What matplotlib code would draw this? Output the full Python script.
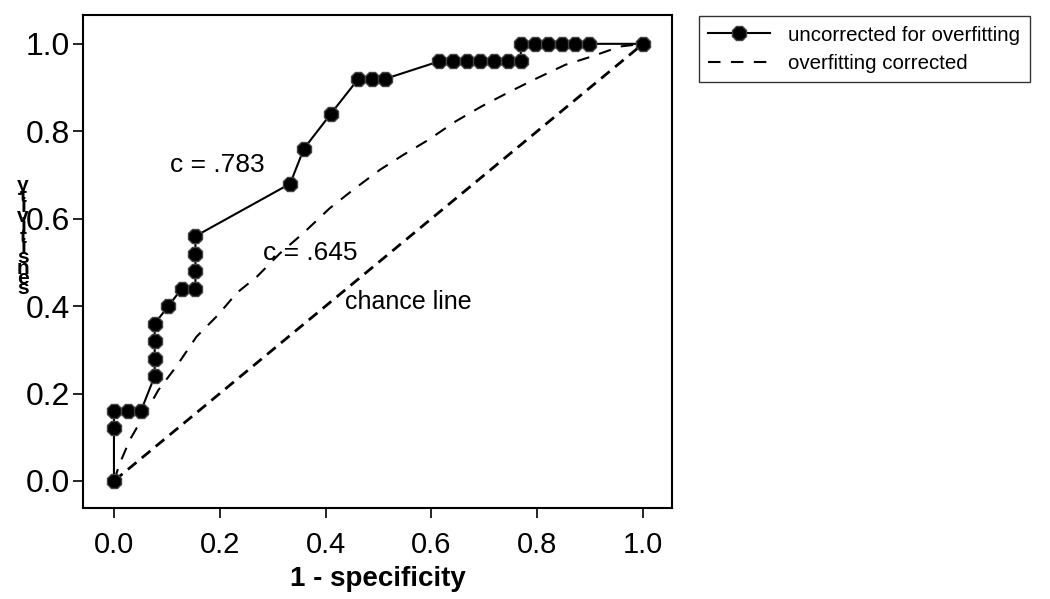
import matplotlib
matplotlib.use("Agg")
import matplotlib.pyplot as plt

# ---------------------------------
# Data
# ---------------------------------
fpr_uncorrected = [0.0, 0.0, 0.0, 0.026, 0.051, 0.077, 0.077, 0.077, 0.077,
                   0.103, 0.128, 0.154, 0.154, 0.154, 0.154, 0.333, 0.359,
                   0.410, 0.462, 0.487, 0.513, 0.615, 0.641, 0.667, 0.692,
                   0.718, 0.744, 0.769, 0.769, 0.795, 0.821, 0.846, 0.872,
                   0.897, 1.0]
tpr_uncorrected = [0.0, 0.12, 0.16, 0.16, 0.16, 0.24, 0.28, 0.32, 0.36,
                   0.40, 0.44, 0.44, 0.48, 0.52, 0.56, 0.68, 0.76,
                   0.84, 0.92, 0.92, 0.92, 0.96, 0.96, 0.96, 0.96,
                   0.96, 0.96, 0.96, 1.0, 1.0, 1.0, 1.0, 1.0,
                   1.0, 1.0]

fpr_corrected = [0.0, 0.011, 0.030, 0.052, 0.084, 0.118, 0.156, 0.197, 0.232,
                 0.270, 0.314, 0.358, 0.408, 0.452, 0.503, 0.547, 0.594,
                 0.645, 0.695, 0.749, 0.799, 0.853, 0.903, 0.957, 1.0]
tpr_corrected = [0.0, 0.040, 0.094, 0.140, 0.208, 0.262, 0.330, 0.380, 0.430,
                 0.467, 0.521, 0.567, 0.624, 0.666, 0.712, 0.746, 0.780,
                 0.822, 0.857, 0.891, 0.921, 0.952, 0.971, 0.994, 1.0]

chance = [0.0, 1.0]

ticks = [0.0, 0.2, 0.4, 0.6, 0.8, 1.0]
tick_labels = ["0.0", "0.2", "0.4", "0.6", "0.8", "1.0"]

# ---------------------------------
# Font
# ---------------------------------
plt.rcParams["font.family"] = ["Liberation Sans", "DejaVu Sans"]

# ---------------------------------
# Figure
# ---------------------------------
fig = plt.figure(figsize=(10.5, 5.99), dpi=100)
ax = fig.add_axes([0.079, 0.152, 0.561, 0.823])

ax.plot(fpr_uncorrected, tpr_uncorrected, color="black", lw=1.5,
        marker="8", markersize=11, markerfacecolor="black",
        markeredgecolor="#444444", markeredgewidth=1,
        label="uncorrected for overfitting", zorder=3)
ax.plot(fpr_corrected, tpr_corrected, color="black", lw=1.5,
        dashes=(6, 5), label="overfitting corrected")
ax.plot(chance, chance, color="black", lw=2, dashes=(4, 2.5))

ax.text(0.106, 0.723, "c = .783", fontsize=19, va="center", ha="left")
ax.text(0.282, 0.522, "c = .645", fontsize=19, va="center", ha="left")
ax.text(0.437, 0.41, "chance line", fontsize=18, va="center", ha="left")

ax.set_xlim(-0.0586, 1.0548)
ax.set_ylim(-0.0618, 1.066)
ax.set_xticks(ticks)
ax.set_xticklabels(tick_labels)
ax.set_yticks(ticks)
ax.set_yticklabels(tick_labels)
ax.tick_params(direction="out", length=7.5, width=1.2)
ax.tick_params(axis="x", labelsize=21, pad=9)
ax.tick_params(axis="y", labelsize=23, pad=2)
for s in ax.spines.values():
    s.set_linewidth(1.5)

ax.set_xlabel("1 - specificity", fontsize=20, fontweight="bold", labelpad=5)

# garbled stacked y label as in the reference
fig.text(0.022, 0.604, "\n".join(reversed("sensitivity")), fontsize=15,
         fontweight="bold", ha="center", va="center", linespacing=0.42)

fig.legend(loc="upper left", bbox_to_anchor=(0.656, 0.99), fontsize=14.8,
           frameon=True, fancybox=False, edgecolor="black",
           handlelength=3.0, handletextpad=0.9, borderpad=0.45,
           labelspacing=0.45)

plt.savefig("out.png", dpi=100)
